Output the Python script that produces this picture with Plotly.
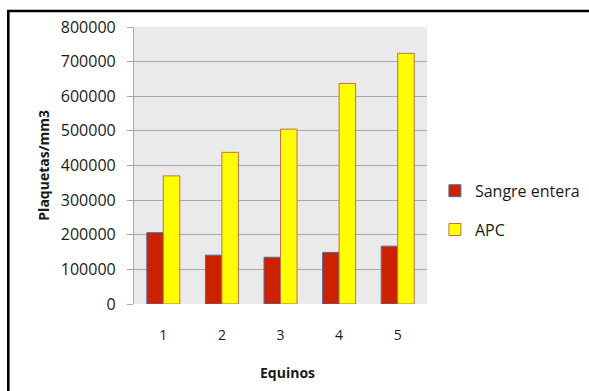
import plotly.graph_objects as go

# Platelet counts per horse (platelets / mm3)
equinos = ["1", "2", "3", "4", "5"]
sangre_entera = [206000, 141000, 135000, 149000, 167000]
apc = [370000, 438000, 505000, 637000, 724000]
y_ticks = [0, 100000, 200000, 300000, 400000, 500000, 600000, 700000, 800000]

FONT = "Open Sans"

fig = go.Figure()
fig.add_trace(go.Bar(
    x=equinos, y=sangre_entera, name="Sangre entera",
    marker=dict(color="#CC2200", line=dict(color="#4F6E9E", width=1)),
    legendgroup="a",
))
fig.add_trace(go.Bar(
    x=equinos, y=apc, name="APC",
    marker=dict(color="#FFFF00", line=dict(color="#C0704A", width=1)),
    legendgroup="b",
))

fig.update_layout(
    width=589, height=391,
    margin=dict(l=134, r=162, t=27, b=87, autoexpand=False),
    paper_bgcolor="white",
    plot_bgcolor="#EAEAEA",
    barmode="group", bargap=0.437, bargroupgap=0,
    font=dict(family=FONT, size=15, color="#1a1a1a"),
    showlegend=True,
    legend=dict(
        x=1.027, xanchor="left", y=0.47, yanchor="top",
        font=dict(family=FONT, size=16, color="#1a1a1a"),
        tracegroupgap=15, bgcolor="rgba(0,0,0,0)",
        itemwidth=30,
    ),
    xaxis=dict(
        type="category", showgrid=False, ticks="", ticklen=0,
        ticklabelstandoff=21, tickfont=dict(size=14),
        showline=False, zeroline=False,
    ),
    yaxis=dict(
        range=[0, 800000], tickvals=y_ticks, tickformat="d",
        showgrid=True, gridcolor="#A8A8A8", gridwidth=1.2,
        ticks="outside", ticklen=6, tickcolor="#A8A8A8",
        showline=True, linecolor="#A8A8A8", linewidth=1.2,
        zeroline=False, ticklabelstandoff=8,
        tickfont=dict(size=16),
    ),
    annotations=[
        dict(text="<b>Equinos</b>", xref="paper", yref="paper",
             x=0.525, y=-0.248, xanchor="center", yanchor="middle",
             showarrow=False, font=dict(family=FONT, size=14)),
        dict(text="<b>Plaquetas/mm3</b>", xref="paper", yref="paper",
             x=-0.31, y=0.5, xanchor="center", yanchor="middle",
             textangle=-90, showarrow=False, font=dict(family=FONT, size=14)),
    ],
    shapes=[
        # frame around the chart (top and left edges visible)
        dict(type="rect", xref="paper", yref="paper",
             x0=-0.429, x1=2.0, y0=-1.0, y1=1.058,
             line=dict(color="black", width=2.6), layer="above"),
    ],
)

fig.write_html("out.html")
